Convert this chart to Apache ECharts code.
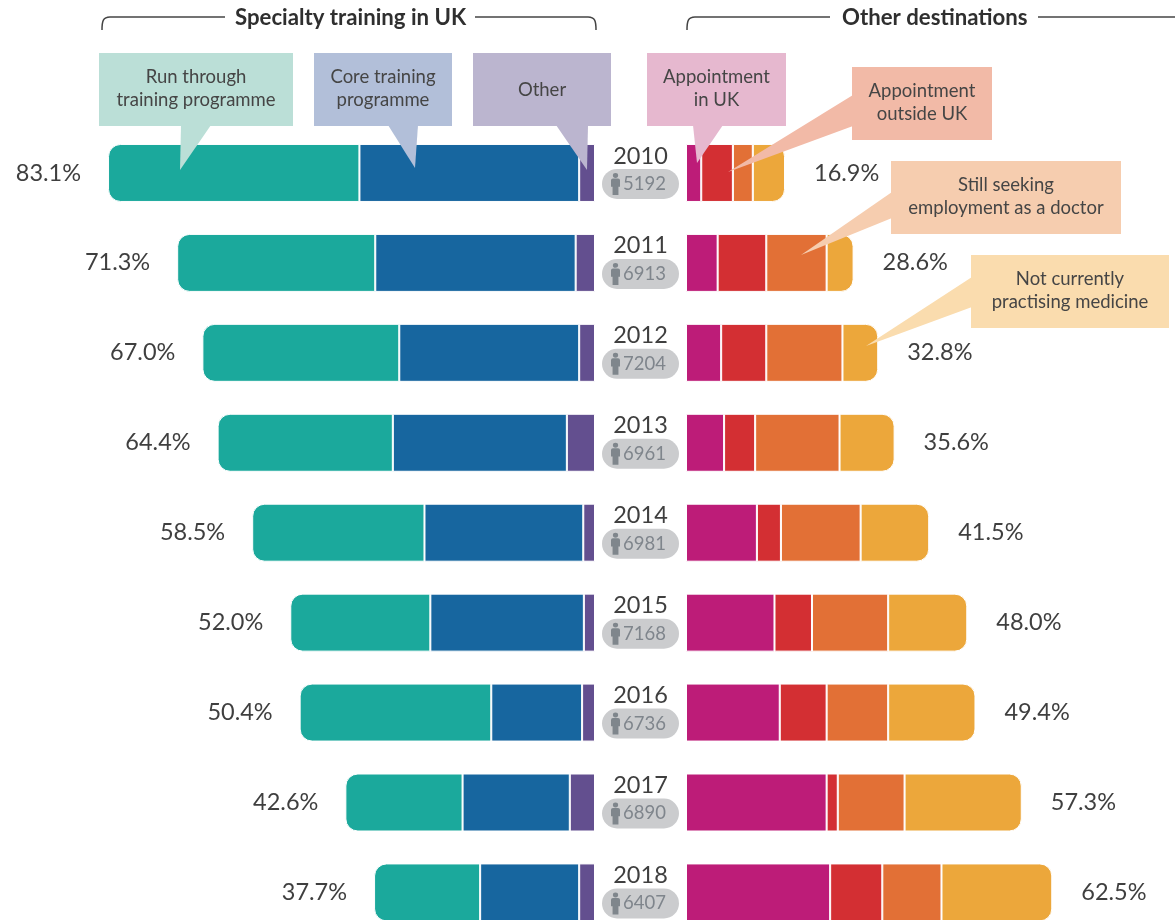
<!DOCTYPE html>
<html>
<head>
<meta charset="utf-8">
<title>Specialty training in UK and other destinations</title>
<script src="https://cdn.jsdelivr.net/npm/echarts@6/dist/echarts.min.js"></script>
<style>
  html, body { margin: 0; padding: 0; background: #fff; overflow: hidden; }
  #chart { width: 1175px; height: 920px; }
</style>
</head>
<body>
<div id="chart"></div>
<script>
// 数据 (percent of doctors per year)
var years = ['2010', '2011', '2012', '2013', '2014', '2015', '2016', '2017', '2018'];
var doctors = [5192, 6913, 7204, 6961, 6981, 7168, 6736, 6890, 6407];

var runThrough = [42.9, 33.8, 33.6, 29.9, 29.4, 23.9, 32.7, 20.0, 18.1];
var coreTraining = [37.5, 34.2, 30.7, 29.7, 27.1, 26.2, 15.5, 18.3, 16.9];
var otherTraining = [2.7, 3.3, 2.7, 4.8, 2.0, 1.9, 2.2, 4.3, 2.7];
var trainingTotal = [83.1, 71.3, 67.0, 64.4, 58.5, 52.0, 50.4, 42.6, 37.7];

var appointmentUK = [2.6, 5.4, 6.0, 6.5, 12.1, 15.1, 16.0, 24.0, 24.6];
var appointmentOutside = [5.4, 8.3, 7.7, 5.3, 4.1, 6.4, 8.0, 1.9, 8.9];
var stillSeeking = [3.4, 10.3, 13.0, 14.4, 13.6, 13.0, 10.5, 11.4, 10.1];
var notPractising = [5.5, 4.6, 6.1, 9.4, 11.7, 13.5, 14.9, 20.0, 18.9];
var otherTotal = [16.9, 28.6, 32.8, 35.6, 41.5, 48.0, 49.4, 57.3, 62.5];

var FONT = 'Lato';
var TEXT = '#3f3f3f';
var PERSON = 'path://M5 0a2.7 2.7 0 1 0 .01 0zM2.4 6h5.2A2 2 0 0 1 9.6 8V15H8V24H2V15H.4V8A2 2 0 0 1 2.4 6z';

// 柱子 (one stacked segment)
function segment(name, data, color, axis, radius, totals, side) {
    return {
        name: name,
        type: 'bar',
        stack: axis === 0 ? 'training' : 'other',
        xAxisIndex: axis,
        yAxisIndex: axis,
        barWidth: 58,
        data: data,
        itemStyle: { color: color, borderColor: '#fff', borderWidth: 1, borderRadius: radius },
        label: totals ? {
            show: true,
            position: side,
            distance: side === 'left' ? 27 : 29,
            fontFamily: FONT,
            fontSize: 23.5,
            color: TEXT,
            formatter: function (p) { return totals[p.dataIndex].toFixed(1) + '%'; }
        } : { show: false }
    };
}

// 中间的年份和人数 (middle column, all hung on the third grid)
function middleSeries() {
    var points = years.map(function (y) { return [0.5, y]; });
    return [{
        type: 'scatter', xAxisIndex: 2, yAxisIndex: 2, data: points, symbolSize: 1,
        itemStyle: { color: 'transparent', opacity: 1 },
        label: {
            show: true, position: 'inside', offset: [0, -17], opacity: 1,
            fontFamily: FONT, fontSize: 23.5, color: TEXT,
            formatter: function (p) { return years[p.dataIndex]; }
        }
    }, {
        type: 'scatter', xAxisIndex: 2, yAxisIndex: 2, data: points, symbolSize: 1,
        itemStyle: { color: 'transparent', opacity: 1 },
        label: {
            show: true, position: 'inside', offset: [0, 11], opacity: 1,
            width: 69, height: 30, lineHeight: 31, padding: [0, 0, 0, 8], align: 'center',
            backgroundColor: '#cbccce', borderRadius: 15,
            fontFamily: FONT, fontSize: 18.5, color: '#7f858c',
            formatter: function (p) { return String(doctors[p.dataIndex]); }
        }
    }, {
        type: 'scatter', xAxisIndex: 2, yAxisIndex: 2, data: points, z: 5,
        symbol: PERSON, symbolSize: [9, 22], symbolOffset: [-25, 11],
        itemStyle: { color: '#7f868c', opacity: 1 }
    }];
}

// 说明框 (callout box with its pointer)
function callout(label, color, box, tail) {
    var nudge = label.indexOf('\n') >= 0 ? -1 : 1;
    return [{
        type: 'polygon', z: 10,
        shape: { points: tail },
        style: { fill: color }
    }, {
        type: 'rect', z: 10,
        shape: { x: box[0], y: box[1], width: box[2], height: box[3] },
        style: { fill: color }
    }, {
        type: 'text', z: 11,
        x: box[0] + box[2] / 2, y: box[1] + box[3] / 2 + nudge,
        style: {
            text: label, fill: '#454545', font: '18.5px ' + FONT,
            align: 'center', verticalAlign: 'middle', lineHeight: 23
        }
    }];
}

// 括号线 (bracket line with a rounded corner)
function bracket(x1, x2, cornerX, end) {
    var dir = end > cornerX ? 1 : -1;
    return [{
        type: 'line', z: 10,
        shape: { x1: x1, y1: 17, x2: x2, y2: 17 },
        style: { stroke: '#444', lineWidth: 1.5 }
    }, {
        type: 'bezierCurve', z: 10,
        shape: { x1: cornerX, y1: 30, cpx1: cornerX, cpy1: 21, cpx2: cornerX + dir, cpy2: 17, x2: cornerX + 8 * dir, y2: 17 },
        style: { fill: null, stroke: '#444', lineWidth: 1.5 }
    }];
}

var graphics = [].concat(
    callout('Run through\ntraining programme', '#bbdfd7', [99, 53, 194, 73], [[181, 125], [211, 125], [180, 170]]),
    callout('Core training\nprogramme', '#b2bfd9', [314, 53, 138, 73], [[388, 125], [418, 125], [415, 168]]),
    callout('Other', '#bbb5cf', [473, 53, 138, 73], [[556, 125], [588, 125], [587, 170]]),
    callout('Appointment\nin UK', '#e6b8cf', [647, 53, 139, 73], [[693, 125], [723, 125], [697, 163]]),
    callout('Appointment\noutside UK', '#f2baa7', [852, 67, 140, 73], [[853, 95], [853, 126], [728, 172]]),
    callout('Still seeking\nemployment as a doctor', '#f6cdaf', [891, 161, 230, 73], [[892, 192], [892, 218], [801, 255]]),
    callout('Not currently\npractising medicine', '#fadcae', [971, 255, 198, 73], [[972, 277], [972, 307], [866, 346]]),
    bracket(110, 225, 102, 225),
    bracket(475, 588, 596, 475),
    bracket(695, 830, 687, 830),
    bracket(1038, 1175, 1300, 1038).slice(0, 1)
);

var myChart = echarts.init(document.getElementById('chart'));

var option = {
    animation: false,
    title: [{
        text: 'Specialty training in UK',
        left: 235, top: 7, padding: 0,
        textStyle: { fontFamily: FONT, fontSize: 22.2, fontWeight: 'bold', color: '#2f2f2f' }
    }, {
        text: 'Other destinations',
        left: 842, top: 7, padding: 0,
        textStyle: { fontFamily: FONT, fontSize: 22.2, fontWeight: 'bold', color: '#2f2f2f' }
    }],
    // 左边 0 在 595, 右边 0 在 686, 下面超出画布
    grid: [
        { left: 9, width: 586, top: 128, height: 809.4, outerBoundsMode: 'none' },
        { left: 686, width: 468.8, top: 128, height: 809.4, outerBoundsMode: 'none' },
        { left: 594, width: 93, top: 128, height: 809.4, outerBoundsMode: 'none' }
    ],
    xAxis: [
        { type: 'value', gridIndex: 0, min: 0, max: 100, inverse: true, show: false },
        { type: 'value', gridIndex: 1, min: 0, max: 80, show: false },
        { type: 'value', gridIndex: 2, min: 0, max: 1, show: false }
    ],
    yAxis: [
        { type: 'category', gridIndex: 0, data: years, inverse: true, show: false },
        { type: 'category', gridIndex: 1, data: years, inverse: true, show: false },
        { type: 'category', gridIndex: 2, data: years, inverse: true, show: false }
    ],
    series: [
        segment('Other', otherTraining, '#634f8f', 0, 0),
        segment('Core training programme', coreTraining, '#17669f', 0, 0),
        segment('Run through training programme', runThrough, '#1ba99c', 0, [12, 0, 0, 12], trainingTotal, 'left'),
        segment('Appointment in UK', appointmentUK, '#bd1c78', 1, 0),
        segment('Appointment outside UK', appointmentOutside, '#d32f33', 1, 0),
        segment('Still seeking employment as a doctor', stillSeeking, '#e27036', 1, 0),
        segment('Not currently practising medicine', notPractising, '#eca73b', 1, [0, 12, 12, 0], otherTotal, 'right')
    ].concat(middleSeries()),
    graphic: { elements: graphics }
};

myChart.setOption(option);
</script>
</body>
</html>
